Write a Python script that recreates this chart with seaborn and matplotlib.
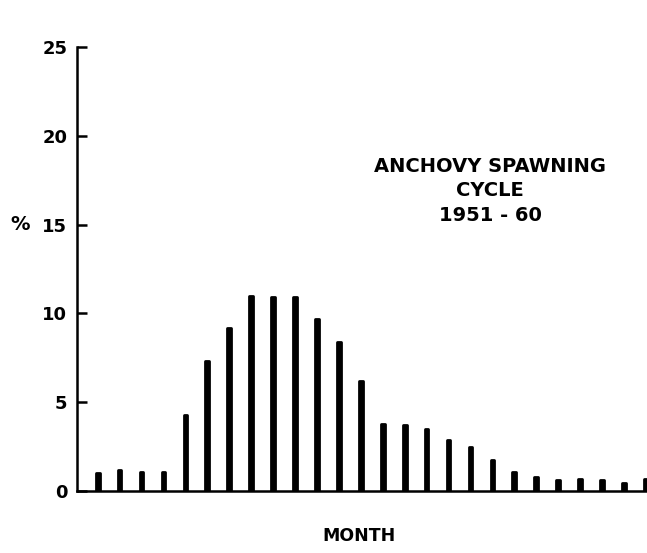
import matplotlib
matplotlib.use("Agg")
import matplotlib.pyplot as plt
import seaborn as sns
import pandas as pd

# Half-monthly share of anchovy spawning, 1951-60 (%)
periods = list(range(1, 27))
percent = [1.0, 1.2, 1.1, 1.05, 4.3, 7.35, 9.2, 11.0, 10.95, 10.9,
           9.7, 8.4, 6.2, 3.8, 3.7, 3.5, 2.9, 2.5, 1.75, 1.1,
           0.8, 0.62, 0.67, 0.65, 0.47, 0.7]
y_ticks = [0, 5, 10, 15, 20, 25]

df = pd.DataFrame({"period": periods, "percent": percent})

sns.set_style("white")
plt.rcParams["font.family"] = ["DejaVu Sans"]
plt.rcParams["text.color"] = "black"
plt.rcParams["ytick.color"] = "black"

fig = plt.figure(figsize=(6.47, 5.53), dpi=100)
ax = fig.add_axes([0.119, 0.112, 0.881, 0.803])

sns.barplot(data=df, x="period", y="percent", color="black",
            width=0.17, edgecolor="black", linewidth=2.0,
            saturation=1, ax=ax)
for p in ax.patches:
    p.set_joinstyle("round")
    p.set_capstyle("round")

ax.set_xlim(-0.944, 25.05)
ax.set_ylim(0, 25)
ax.set_yticks(y_ticks)
ax.set_yticklabels([str(t) for t in y_ticks], fontsize=13, fontweight="bold")
ax.set_xticks([])
ax.tick_params(axis="y", direction="in", length=7, width=1.8, pad=7,
               left=True, color="black", labelcolor="black")

for side in ("top", "right"):
    ax.spines[side].set_visible(False)
for side in ("left", "bottom"):
    ax.spines[side].set_linewidth(1.8)
    ax.spines[side].set_color("black")

ax.set_xlabel("")
ax.set_ylabel("")
fig.text(20 / 647, 1 - 225 / 553, "%", fontsize=14, fontweight="bold",
         ha="center", va="center")
fig.text(359 / 647, 1 - 536 / 553, "MONTH", fontsize=12.5, fontweight="bold",
         ha="center", va="center")
fig.text(490 / 647, 1 - 191 / 553, "ANCHOVY SPAWNING\nCYCLE\n1951 - 60",
         fontsize=14, fontweight="bold", ha="center", va="center",
         linespacing=1.35)

fig.savefig("out.png", dpi=100, facecolor="white")
